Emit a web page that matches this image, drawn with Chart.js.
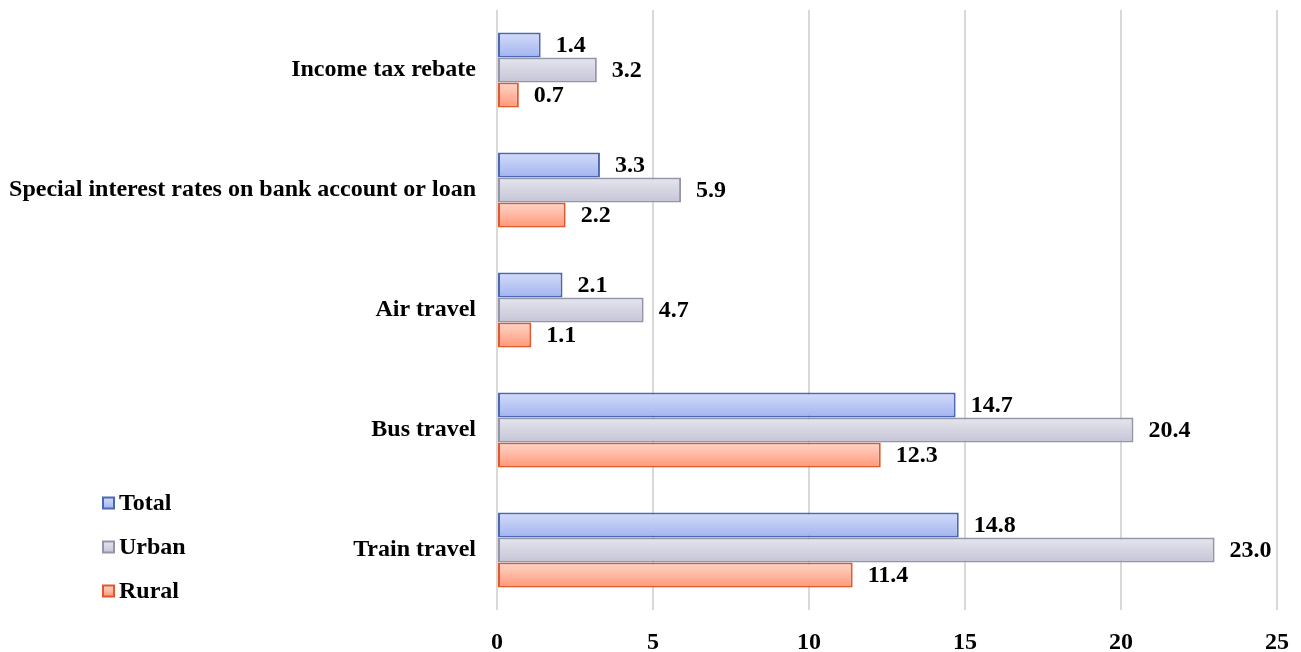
<!DOCTYPE html>
<html>
<head>
<meta charset="utf-8">
<script src="https://cdn.jsdelivr.net/npm/chart.js@4.4.1/dist/chart.umd.min.js"></script>
<style>
  html, body { margin: 0; padding: 0; background: #ffffff; }
  #wrap { width: 1301px; height: 652px; position: relative; }
</style>
</head>
<body>
<div id="wrap"><canvas id="c" width="1301" height="652"></canvas></div>
<script>
// Benefits availed (%), by area
const categories = [
  'Income tax rebate',
  'Special interest rates on bank account or loan',
  'Air travel',
  'Bus travel',
  'Train travel'
];
const totalValues = [1.4, 3.3, 2.1, 14.7, 14.8];
const urbanValues = [3.2, 5.9, 4.7, 20.4, 23.0];
const ruralValues = [0.7, 2.2, 1.1, 12.3, 11.4];
const xTicks = [0, 5, 10, 15, 20, 25];

const FONT = '"Liberation Serif", "Times New Roman", serif';
const FONT_SIZE = 24;

// top / bottom gradient stops and outline for each series
const seriesStyle = {
  Total: { top: '#d4dcfa', bottom: '#a2b4ef', border: '#4a68b4' },
  Urban: { top: '#e6e6ee', bottom: '#c4c4d6', border: '#9494aa' },
  Rural: { top: '#ffd6ca', bottom: '#ff9878', border: '#e2582a' }
};

function makeDataset(label, values) {
  const s = seriesStyle[label];
  return {
    label: label,
    data: values,
    backgroundColor: s.bottom,
    borderColor: s.border,
    borderWidth: 2,
    borderSkipped: false,
    categoryPercentage: 0.625,
    barPercentage: 1.0
  };
}

// vertical gradient fill on every bar (each bar gets its own options copy)
const barGradient = {
  id: 'barGradient',
  beforeDatasetsDraw(chart) {
    const ctx = chart.ctx;
    chart.data.datasets.forEach((ds, di) => {
      const s = seriesStyle[ds.label];
      chart.getDatasetMeta(di).data.forEach(el => {
        const h = el.height;
        const g = ctx.createLinearGradient(0, el.y - h / 2, 0, el.y + h / 2);
        g.addColorStop(0, s.top);
        g.addColorStop(1, s.bottom);
        el.options = Object.assign({}, el.options, { backgroundColor: g });
      });
    });
  }
};

// value printed just past the end of each bar
const valueLabels = {
  id: 'valueLabels',
  afterDatasetsDraw(chart) {
    const ctx = chart.ctx;
    ctx.save();
    ctx.font = 'bold ' + FONT_SIZE + 'px ' + FONT;
    ctx.fillStyle = '#000000';
    ctx.textAlign = 'left';
    ctx.textBaseline = 'middle';
    chart.data.datasets.forEach((ds, di) => {
      chart.getDatasetMeta(di).data.forEach((el, i) => {
        ctx.fillText(ds.data[i].toFixed(1), el.x + 15, el.y + 1);
      });
    });
    ctx.restore();
  }
};

// legend block in the lower left corner
const cornerLegend = {
  id: 'cornerLegend',
  afterDraw(chart) {
    const ctx = chart.ctx;
    ctx.save();
    ctx.font = 'bold ' + FONT_SIZE + 'px ' + FONT;
    ctx.textBaseline = 'middle';
    ctx.textAlign = 'left';
    const x0 = 103, y0 = 503, step = 44, box = 11;
    chart.data.datasets.forEach((ds, i) => {
      const s = seriesStyle[ds.label];
      const cy = y0 + i * step;
      const g = ctx.createLinearGradient(0, cy - box / 2, 0, cy + box / 2);
      g.addColorStop(0, s.top);
      g.addColorStop(1, s.bottom);
      ctx.fillStyle = g;
      ctx.fillRect(x0, cy - box / 2, box, box);
      ctx.strokeStyle = s.border;
      ctx.lineWidth = 2;
      ctx.strokeRect(x0, cy - box / 2, box, box);
      ctx.fillStyle = '#000000';
      ctx.fillText(ds.label, x0 + box + 5, cy + 1);
    });
    ctx.restore();
  }
};

new Chart(document.getElementById('c'), {
  type: 'bar',
  data: {
    labels: categories,
    datasets: [
      makeDataset('Total', totalValues),
      makeDataset('Urban', urbanValues),
      makeDataset('Rural', ruralValues)
    ]
  },
  plugins: [barGradient, valueLabels, cornerLegend],
  options: {
    indexAxis: 'y',
    responsive: false,
    animation: false,
    layout: { padding: { top: 10, right: 24, bottom: 0, left: 0 } },
    plugins: {
      legend: { display: false },
      tooltip: { enabled: false }
    },
    scales: {
      x: {
        min: 0,
        max: 25,
        afterBuildTicks(scale) {
          scale.ticks = xTicks.map(v => ({ value: v }));
        },
        afterFit(scale) {
          scale.height = 42;
          scale.paddingLeft = 0;
          scale.paddingRight = 0;
        },
        border: { display: false },
        grid: { color: '#d9d9d9', lineWidth: 2, drawTicks: false },
        ticks: {
          padding: 18,
          color: '#000000',
          font: { family: FONT, size: FONT_SIZE, weight: 'bold' }
        }
      },
      y: {
        afterFit(scale) {
          scale.width = 497;
          scale.paddingTop = 0;
          scale.paddingBottom = 0;
        },
        border: { display: false },
        grid: { display: false, drawTicks: false },
        ticks: {
          padding: 21,
          color: '#000000',
          font: { family: FONT, size: FONT_SIZE, weight: 'bold' }
        }
      }
    }
  }
});
</script>
</body>
</html>
